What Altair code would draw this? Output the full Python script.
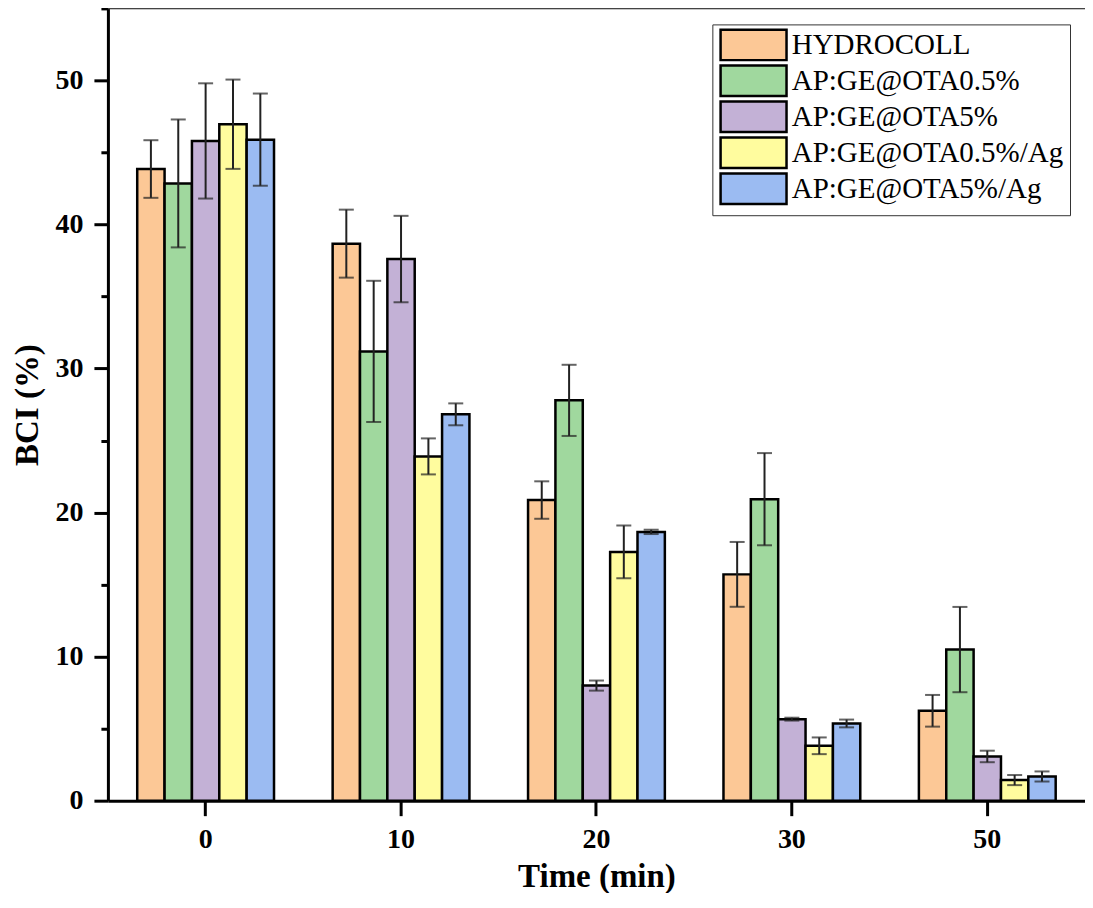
import altair as alt
import pandas as pd

times = ["0", "10", "20", "30", "50"]
series = ["HYDROCOLL", "AP:GE@OTA0.5%", "AP:GE@OTA5%", "AP:GE@OTA0.5%/Ag", "AP:GE@OTA5%/Ag"]
colors = ["#FCC896", "#A0D89E", "#C3B1D6", "#FFFC9E", "#9BBBF2"]

hydrocoll = [43.85, 38.67, 20.87, 15.71, 6.24]
hydrocoll_err = [2.0, 2.36, 1.3, 2.25, 1.1]
ota05 = [42.85, 31.19, 27.79, 20.93, 10.49]
ota05_err = [4.44, 4.9, 2.47, 3.2, 2.96]
ota5 = [45.8, 37.6, 7.99, 5.66, 3.07]
ota5_err = [4.0, 3.0, 0.35, 0.1, 0.4]
ota05ag = [46.96, 23.9, 17.27, 3.81, 1.43]
ota05ag_err = [3.1, 1.25, 1.83, 0.58, 0.35]
ota5ag = [45.89, 26.82, 18.66, 5.36, 1.68]
ota5ag_err = [3.2, 0.76, 0.15, 0.27, 0.35]

means = [hydrocoll, ota05, ota5, ota05ag, ota5ag]
errors = [hydrocoll_err, ota05_err, ota5_err, ota05ag_err, ota5ag_err]

rows = []
for s, vals, errs in zip(series, means, errors):
    for t, v, e in zip(times, vals, errs):
        rows.append({"time": t, "series": s, "bci": v, "lo": v - e, "hi": v + e})
df = pd.DataFrame(rows)

FONT = "Liberation Serif"
W = 978
H = 793

x_axis = alt.Axis(
    labelAngle=0, tickSize=15, tickWidth=3, tickColor="black",
    domainColor="black", domainWidth=3,
    labelFont=FONT, labelFontSize=28, labelFontWeight="bold", labelColor="black",
    labelPadding=10, titleFont=FONT, titleFontSize=33, titleFontWeight="bold",
    titleColor="black", titleY=86, titleBaseline="alphabetic",
)
y_axis = alt.Axis(
    values=list(range(0, 56, 5)),
    labelExpr="datum.value % 10 === 0 ? datum.label : ''",
    tickSize={"condition": {"test": "datum.value % 10 === 0", "value": 14}, "value": 7},
    tickWidth=3, tickColor="black", domainColor="black", domainWidth=3,
    labelFont=FONT, labelFontSize=28, labelFontWeight="bold", labelColor="black",
    labelPadding=11, titleFont=FONT, titleFontSize=33, titleFontWeight="bold",
    titleColor="black", titlePadding=10, grid=False,
)

x = alt.X("time:N", sort=times, title="Time (min)",
          scale=alt.Scale(paddingInner=0.3, paddingOuter=0.15), axis=x_axis)
xo = alt.XOffset("series:N", sort=series, scale=alt.Scale(paddingInner=0, paddingOuter=0))
yscale = alt.Scale(domain=[0, 55], nice=False, zero=True)

base = alt.Chart(df)

bars = base.mark_bar(stroke="black", strokeWidth=2.5).encode(
    x=x, xOffset=xo,
    y=alt.Y("bci:Q", scale=yscale, axis=y_axis, title="BCI (%)"),
    color=alt.Color(
        "series:N", sort=series,
        scale=alt.Scale(domain=series, range=colors),
        legend=alt.Legend(
            title=None, orient="none", legendX=605, legendY=16, direction="vertical",
            symbolType="M-1,-1.85L7,-1.85L7,1.85L-1,1.85Z", symbolSize=272.25, symbolOffset=-4,
            symbolStrokeColor="black", symbolStrokeWidth=2.5, symbolOpacity=1,
            labelFont=FONT, labelFontSize=29, labelColor="black", labelOffset=48.5,
            labelLimit=500, rowPadding=-5, padding=6,
            strokeColor="#333", fillColor="white",
        ),
    ),
)

rules = base.mark_rule(color="#222", strokeWidth=2).encode(
    x=x, xOffset=xo,
    y=alt.Y("lo:Q", scale=yscale, title="BCI (%)"), y2="hi:Q",
)
cap_hi = base.mark_tick(color="#222", thickness=2, size=15).encode(
    x=x, xOffset=xo, y=alt.Y("hi:Q", scale=yscale, title="BCI (%)"),
)
cap_lo = base.mark_tick(color="#222", thickness=2, size=15).encode(
    x=x, xOffset=xo, y=alt.Y("lo:Q", scale=yscale, title="BCI (%)"),
)
top_line = alt.Chart(pd.DataFrame({"k": [0]})).mark_rule(
    color="#444", strokeWidth=1.5
).encode(x=alt.value(0), x2=alt.value(W + 20), y=alt.value(0))

chart = alt.layer(bars, rules, cap_hi, cap_lo, top_line).properties(
    width=W, height=H,
    autosize=alt.AutoSizeParams(type="none"),
    padding={"left": 100, "top": 0, "right": 0, "bottom": 92},
).configure_view(stroke=None).configure_legend(labelFont=FONT).configure(background="white")

chart.save("out.html", embed_options={"renderer": "svg", "actions": False})
